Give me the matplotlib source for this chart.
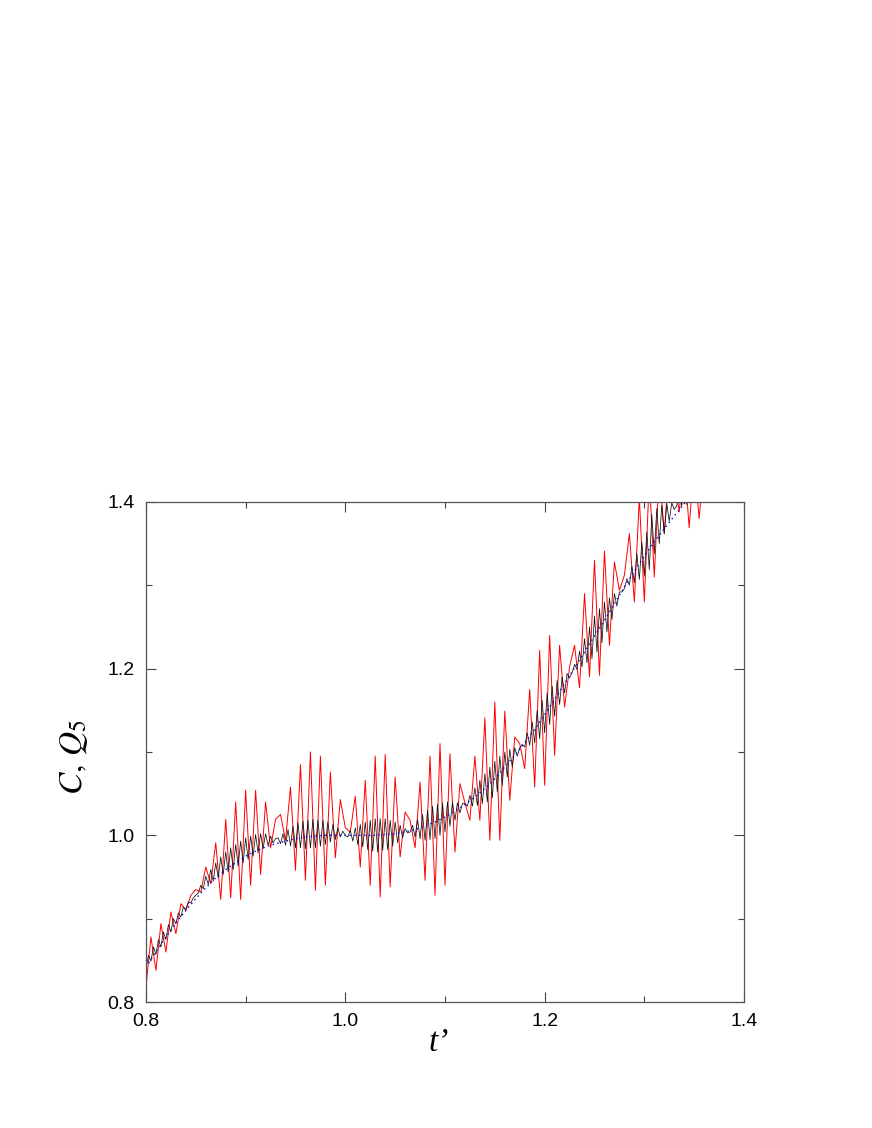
import numpy as np
import matplotlib
matplotlib.use("Agg")
import matplotlib.pyplot as plt
from matplotlib.ticker import MultipleLocator

plt.rcParams['font.family'] = ['Liberation Sans', 'DejaVu Sans']
plt.rcParams['mathtext.fontset'] = 'stix'

# Q5 (red), sampled every 0.005 from t' = 0.80
red_start, red_step = 0.800, 0.005
red_vals = [
    0.818, 0.878, 0.838, 0.894, 0.860, 0.908, 0.882, 0.918, 0.910, 0.928,
    0.935, 0.932, 0.962, 0.942, 0.991, 0.923, 1.019, 0.925, 1.040, 0.923,
    1.054, 0.940, 1.054, 0.953, 1.040, 0.985, 1.019, 1.025, 0.994, 1.058,
    0.958, 1.085, 0.946, 1.100, 0.934, 1.095, 0.940, 1.076, 0.973, 1.043,
    1.009, 1.004, 1.047, 0.962, 1.066, 0.940, 1.095, 0.926, 1.097, 0.938,
    1.070, 0.974, 1.028, 1.018, 0.985, 1.064, 0.946, 1.095, 0.928, 1.110,
    0.940, 1.098, 0.980, 1.062, 1.039, 1.018, 1.095, 1.018, 1.141, 0.994,
    1.160, 0.994, 1.149, 1.042, 1.118, 1.110, 1.080, 1.175, 1.058, 1.222,
    1.060, 1.240, 1.096, 1.228, 1.154, 1.202, 1.228, 1.177, 1.290, 1.190,
    1.330, 1.192, 1.341, 1.228, 1.328, 1.294, 1.312, 1.362, 1.280, 1.405,
    1.280, 1.430, 1.310, 1.440, 1.362, 1.445, 1.430, 1.388, 1.450, 1.369,
    1.450, 1.380, 1.450,
]

# C (black), sampled every 0.0025 from t' = 0.80
blk_start, blk_step = 0.800, 0.0025
blk_vals = [
    0.840, 0.856, 0.849, 0.866, 0.857, 0.875, 0.866, 0.884, 0.875, 0.893,
    0.884, 0.900, 0.894, 0.907, 0.902, 0.914, 0.911, 0.920, 0.919, 0.925,
    0.928, 0.931, 0.940, 0.936, 0.951, 0.941, 0.959, 0.945, 0.967, 0.949,
    0.974, 0.953, 0.980, 0.956, 0.985, 0.959, 0.989, 0.963, 0.993, 0.967,
    0.997, 0.971, 0.999, 0.975, 1.001, 0.979, 1.002, 0.984, 1.002, 0.988,
    0.999, 0.991, 0.996,
    0.997, 0.990, 1.002, 0.988, 1.007, 0.987, 1.011, 0.985, 1.015, 0.985,
    1.017, 0.984, 1.018, 0.985, 1.019, 0.985, 1.018, 0.987, 1.018, 0.989,
    1.016, 0.992, 1.013, 0.995, 1.009, 0.998, 1.005, 1.000,
    0.998, 1.006, 0.993, 1.009, 0.989, 1.013, 0.986, 1.016, 0.983, 1.018,
    0.981, 1.020, 0.980, 1.020, 0.982, 1.020, 0.983, 1.018, 0.987, 1.016,
    0.991, 1.012, 0.997, 1.008, 1.003,
    1.004, 1.012, 0.998, 1.019, 0.996, 1.025, 0.994, 1.030, 0.995, 1.035,
    0.996, 1.037, 1.000, 1.039, 1.004, 1.040, 1.011, 1.040, 1.018, 1.039,
    1.027, 1.038,
    1.038, 1.035, 1.048, 1.035, 1.057, 1.036, 1.066, 1.038, 1.074, 1.040,
    1.082, 1.045, 1.089, 1.052, 1.095, 1.060, 1.100, 1.070, 1.103, 1.082,
    1.105, 1.095, 1.105,
    1.109, 1.106, 1.123, 1.108, 1.136, 1.111, 1.150, 1.116, 1.162, 1.123,
    1.171, 1.133, 1.179, 1.143, 1.186, 1.157, 1.190, 1.171, 1.194, 1.189,
    1.195, 1.205, 1.199, 1.221, 1.202, 1.236, 1.207, 1.250, 1.212, 1.263,
    1.220, 1.272, 1.231, 1.280, 1.244, 1.285, 1.259, 1.290, 1.275, 1.292,
    1.292,
    1.296, 1.308, 1.300, 1.323, 1.303, 1.338, 1.307, 1.352, 1.311, 1.364,
    1.319, 1.385, 1.338, 1.392, 1.350, 1.396, 1.362, 1.398, 1.377, 1.399,
    1.391, 1.395, 1.411, 1.395, 1.425, 1.397, 1.435,
]

# smooth reference curve (blue, dotted)
blue_t = [0.80, 0.81, 0.82, 0.83, 0.84, 0.85, 0.86, 0.87, 0.88, 0.89,
          0.90, 0.91, 0.92, 0.93, 0.94, 0.95, 0.96, 0.97, 0.98, 0.99,
          1.00, 1.01, 1.02, 1.03, 1.04, 1.05, 1.06, 1.07, 1.08, 1.09,
          1.10, 1.11, 1.12, 1.13, 1.14, 1.15, 1.16, 1.17, 1.18, 1.19,
          1.20, 1.21, 1.22, 1.23, 1.24, 1.25, 1.26, 1.27, 1.28, 1.29,
          1.30, 1.31, 1.32, 1.33, 1.34, 1.35]
blue_vals = [0.842, 0.860, 0.878, 0.895, 0.910, 0.924, 0.937, 0.949, 0.959, 0.967,
             0.975, 0.981, 0.986, 0.990, 0.993, 0.996, 0.998, 0.999, 1.000, 1.000,
             1.000, 1.000, 1.000, 1.000, 1.001, 1.002, 1.004, 1.007, 1.011, 1.016,
             1.022, 1.029, 1.037, 1.046, 1.056, 1.068, 1.082, 1.096, 1.111, 1.127,
             1.145, 1.163, 1.182, 1.201, 1.220, 1.239, 1.258, 1.278, 1.298, 1.317,
             1.335, 1.352, 1.368, 1.383, 1.398, 1.412]

red_t = red_start + red_step * np.arange(len(red_vals))
blk_t = blk_start + blk_step * np.arange(len(blk_vals))

fig = plt.figure(figsize=(8.72, 11.28), dpi=100)
ax = fig.add_axes([0.1674, 0.1117, 0.6858, 0.4433])

ax.plot(red_t, red_vals, color='#ff0000', lw=0.7)
ax.plot(blk_t, blk_vals, color='#111111', lw=0.55)
ax.plot(blue_t, blue_vals, color='#0000ff', lw=1.0, ls=(0, (1, 2.5)))

ax.set_xlim(0.8, 1.4)
ax.set_ylim(0.8, 1.4)
ax.xaxis.set_major_locator(MultipleLocator(0.2))
ax.xaxis.set_minor_locator(MultipleLocator(0.1))
ax.yaxis.set_major_locator(MultipleLocator(0.2))
ax.yaxis.set_minor_locator(MultipleLocator(0.1))
ax.xaxis.set_major_formatter(matplotlib.ticker.FormatStrFormatter('%.1f'))
ax.yaxis.set_major_formatter(matplotlib.ticker.FormatStrFormatter('%.1f'))
ax.tick_params(which='both', direction='in', top=True, right=True,
               labelsize=14, width=0.8, color='#444444')
ax.tick_params(which='major', length=7, pad=8)
ax.tick_params(which='minor', length=4)
for s in ax.spines.values():
    s.set_color('#555555')
    s.set_linewidth(0.9)

ax.set_xlabel("t\u2019", family=['Liberation Serif'], style='italic', fontsize=24)
ax.xaxis.set_label_coords(0.49, -0.05)
ax.set_ylabel(r"$C,\,Q_5$", fontsize=24)
ax.yaxis.set_label_coords(-0.093, 0.49)

fig.savefig('out.png', dpi=100)
